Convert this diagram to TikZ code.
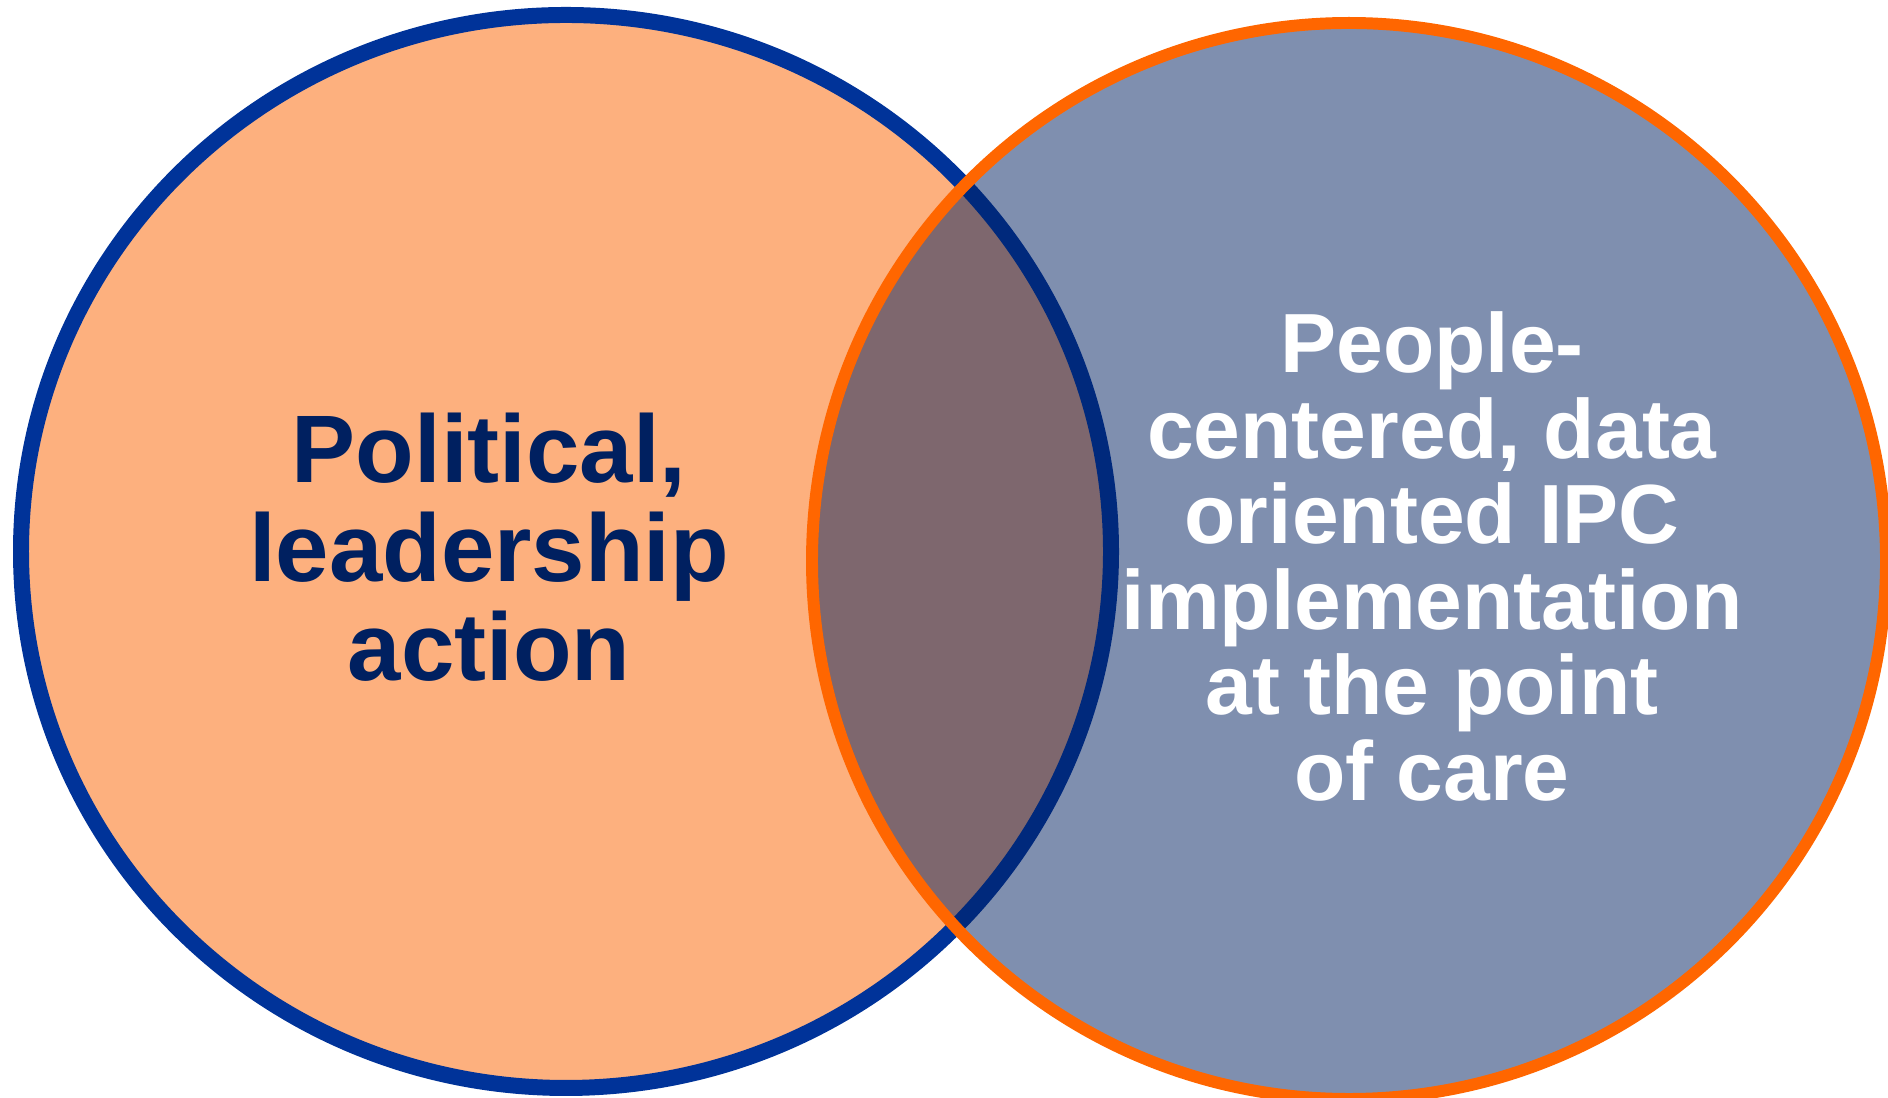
\documentclass[tikz,border=0pt]{standalone}
\usepackage{fontspec}
\setmainfont{Liberation Sans}
\usepackage{tikz}
\definecolor{peach}{HTML}{FDB07E}
\definecolor{setblue}{HTML}{003399}
\definecolor{darknavy}{HTML}{002060}
\definecolor{setorange}{HTML}{FF6600}
\tikzstyle{left set}=[fill=peach,draw=setblue,line width=4.55pt]
\tikzstyle{right set}=[fill=darknavy,fill opacity=0.5,draw=setorange,line width=3.4pt]
\tikzstyle{set label}=[align=center,inner sep=0pt]

\begin{document}
\begin{tikzpicture}
  \useasboundingbox (0,0) rectangle (18.88,10.98);
  \clip (0,0) rectangle (18.88,10.98);
  \draw[left set]  (5.66,5.465) ellipse [x radius=5.45, y radius=5.365];
  \draw[right set] (13.49,5.37) ellipse [x radius=5.37, y radius=5.38];

  \node[set label,text=darknavy,
        font=\fontsize{27.3}{28.1}\selectfont\bfseries] (political) at (4.89,5.51)
        {Political,\\leadership\\action};
  \node[set label,text=white,
        font=\fontsize{23.9}{24.3}\selectfont\bfseries] (people) at (14.32,5.415)
        {People-\\centered, data\\oriented IPC\\implementation\\at the point\\of care};
\end{tikzpicture}
\end{document}
